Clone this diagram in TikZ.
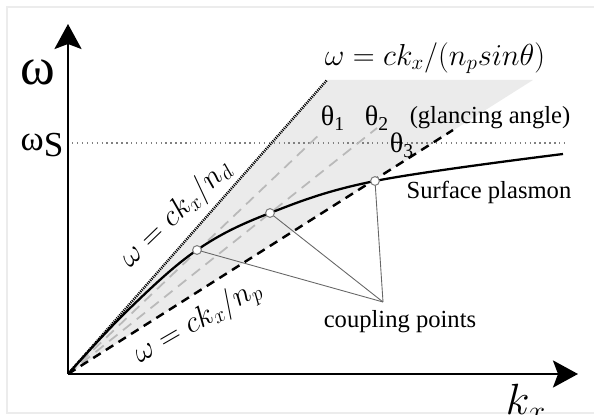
\documentclass[tikz,border=0pt]{standalone}
\usepackage{fontspec}
\usetikzlibrary{arrows.meta}
\newfontfamily\timesfont{Liberation Serif}
\tikzset{
  axis/.style={line width=1.6pt, -{Stealth[length=5mm, width=5.4mm, inset=1mm]}},
  txt/.style={font=\timesfont\fontsize{14}{16}\selectfont, inner sep=0pt},
  eqn/.style={font=\fontsize{17.5}{20}\selectfont, inner sep=0pt},
  angledash/.style={gray!55, line width=1pt, dash pattern=on 6pt off 4pt},
  link/.style={gray!80!black, line width=0.5pt},
  cpoint/.style={circle, draw=gray, fill=white, line width=0.6pt, inner sep=0pt, minimum size=5pt}
}
\begin{document}
\begin{tikzpicture}[x=0.02cm, y=0.02cm]
\useasboundingbox (-68,-41) rectangle (526,374);
\draw[gray!15, line width=0.8pt] (530,367) -- (-61,367) -- (-61,-39) -- (530,-39);

% light cone between the two light lines
\fill[gray!16] (0,0) -- (259,294) -- (465,294) -- cycle;

% points on the surface plasmon curve
\coordinate (O) at (0,0);
\coordinate (p1) at (129,124);
\coordinate (p2) at (202,161);
\coordinate (p3) at (307,193);

\draw[gray, line width=0.8pt, dash pattern=on 0.8pt off 2pt] (4,231) -- (497,231);
\draw[angledash] (O) -- (254,242);
\draw[angledash] (O) -- (309,246);
\draw[line width=1.4pt, dash pattern=on 0.6pt off 0.6pt] (O) -- (259,294);
\draw[line width=1.4pt, dash pattern=on 5pt off 3.5pt] (O) -- (385,244);
\draw[line width=1.3pt] plot[smooth, tension=0.6] coordinates {(0,0) (60,64) (p1) (p2) (p3) (495,220)};

% coupling points
\node[txt] (cp) at (332,52) {coupling points};
\coordinate (meet) at (315,72);
\draw[link] (meet) -- (p1);
\draw[link] (meet) -- (p2);
\draw[link] (meet) -- (p3);
\node[cpoint] at (p1) {};
\node[cpoint] at (p2) {};
\node[cpoint] at (p3) {};

\draw[axis] (O) -- (0,350);
\draw[axis] (O) -- (510,0);

\node[txt, font=\timesfont\fontsize{30}{32}\selectfont] (w) at (-30,302) {ω};
\node[txt, font=\timesfont\fontsize{20}{22}\selectfont] (ws) at (-26,229) {ω\raisebox{-0.4ex}{S}};
\node[txt, font=\timesfont\fontsize{16}{18}\selectfont] (t1) at (265,256) {θ\textsubscript{1}};
\node[txt, font=\timesfont\fontsize{16}{18}\selectfont] (t2) at (309,256) {θ\textsubscript{2}};
\node[txt, font=\timesfont\fontsize{16}{18}\selectfont] (t3) at (334,229) {θ\textsubscript{3}};
\node[txt] (ga) at (422,256) {(glancing angle)};
\node[txt] (sp) at (421,182) {Surface plasmon};
\node[eqn, font=\fontsize{17}{20}\selectfont] (top) at (367,316) {$\omega = ck_x/(n_p sin\theta)$};
\node[eqn, rotate=44] (nd) at (108,160) {$\omega = ck_x/n_d$};
\node[eqn, rotate=30] (np) at (130,52) {$\omega = ck_x/n_p$};
\node[eqn, font=\fontsize{24}{26}\selectfont] (kx) at (458,-29) {$k_x$};
\end{tikzpicture}
\end{document}
